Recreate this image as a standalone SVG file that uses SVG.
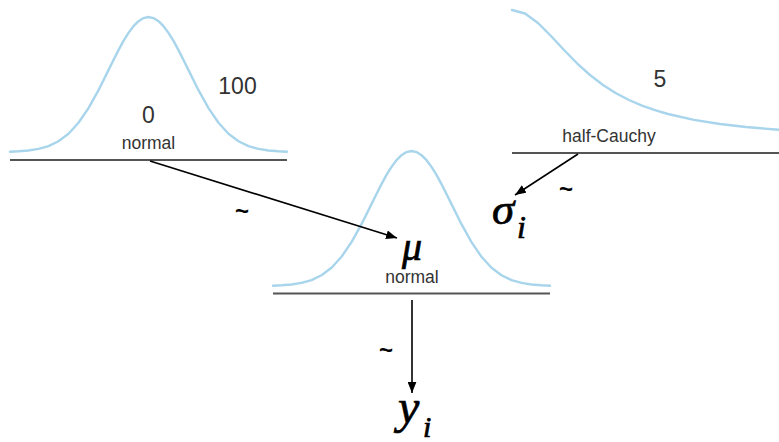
<svg xmlns="http://www.w3.org/2000/svg" xmlns:xlink="http://www.w3.org/1999/xlink" width="779" height="442" viewBox="0 0 779 442">
<style>
.curve{fill:none;stroke:#a8d5ec;stroke-width:2.4;stroke-linejoin:round;stroke-linecap:round}
.axis{stroke:#555;stroke-width:2}
.lbl{font-family:"Liberation Sans",Arial,sans-serif;fill:#333}
.num{font-size:23px}
.dist{font-size:17.5px}
.math{font-family:"Liberation Serif","Times New Roman",serif;font-style:italic;fill:#000;stroke:#000;stroke-width:0.7}
.tilde{font-family:"Liberation Sans",Arial,sans-serif;font-size:24px;font-weight:bold;fill:#000}
.conn{stroke:#000;stroke-width:1.6;fill:none}
</style>
<defs>
<marker id="arr" viewBox="0 0 10 8" refX="10" refY="4" markerWidth="11" markerHeight="9" markerUnits="userSpaceOnUse" orient="auto">
<path d="M0,0 L10,4 L0,8 z" fill="#000"/>
</marker>
<path id="gauss" d="M-138.5,-0.32 L-130,-0.69 L-120,-1.5 L-110,-3.08 L-100,-5.93 L-90,-10.75 L-80,-18.27 L-70,-29.2 L-60,-43.83 L-50,-61.8 L-40,-81.88 L-35,-92.06 L-30,-101.9 L-25,-111.05 L-20,-119.14 L-15,-125.83 L-10,-130.84 L-5,-133.95 L0,-135 L5,-133.95 L10,-130.84 L15,-125.83 L20,-119.14 L25,-111.05 L30,-101.9 L35,-92.06 L40,-81.88 L50,-61.8 L60,-43.83 L70,-29.2 L80,-18.27 L90,-10.75 L100,-5.93 L110,-3.08 L120,-1.5 L130,-0.69 L138.5,-0.32"/>
</defs>
<rect width="779" height="442" fill="#fff"/>

<g id="node-prior-mu">
<use xlink:href="#gauss" x="148.5" y="152" class="curve"/>
<line x1="10" y1="160" x2="287" y2="160" class="axis"/>
<text x="237.5" y="94" class="lbl num" text-anchor="middle">100</text>
<text x="148.5" y="123" class="lbl num" text-anchor="middle">0</text>
<text x="148.5" y="148.5" class="lbl dist" text-anchor="middle">normal</text>
</g>

<g id="node-prior-sigma">
<path class="curve" d="M512,10 L525,13.51 L538,23 L551,36 L564,50 L577,63.28 L590,75 L603,84.94 L616,93.2 L629,100 L642,105.59 L655,110.19 L668,114 L694,119.83 L720,123.97 L746,127 L772,129.27 L785,130.19"/>
<line x1="512" y1="153" x2="779" y2="153" class="axis"/>
<text x="660" y="87" class="lbl num" text-anchor="middle">5</text>
<text x="609" y="141.5" class="lbl dist" text-anchor="middle">half-Cauchy</text>
</g>

<g id="node-likelihood">
<use xlink:href="#gauss" x="411.5" y="286" class="curve"/>
<line x1="273" y1="293.5" x2="550" y2="293.5" class="axis"/>
<text x="412" y="260" class="math" font-size="40" text-anchor="middle">μ</text>
<text x="412" y="283" class="lbl dist" text-anchor="middle">normal</text>
</g>

<g id="node-sigma">
<text x="492" y="224" class="math" font-size="45">σ</text>
<text x="517" y="238" class="math" font-size="32">i</text>
</g>

<g id="node-y">
<text x="398" y="423" class="math" font-size="48">y</text>
<text x="423" y="437" class="math" font-size="30">i</text>
</g>

<g id="connectors">
<line x1="150" y1="161" x2="397" y2="238" class="conn" marker-end="url(#arr)"/>
<line x1="578" y1="154" x2="515" y2="195" class="conn" marker-end="url(#arr)"/>
<line x1="412" y1="300" x2="412" y2="393" class="conn" marker-end="url(#arr)"/>
<text x="242" y="219" class="tilde" text-anchor="middle">~</text>
<text x="386" y="358" class="tilde" text-anchor="middle">~</text>
<text x="566" y="197" class="tilde" text-anchor="middle">~</text>
</g>
</svg>
